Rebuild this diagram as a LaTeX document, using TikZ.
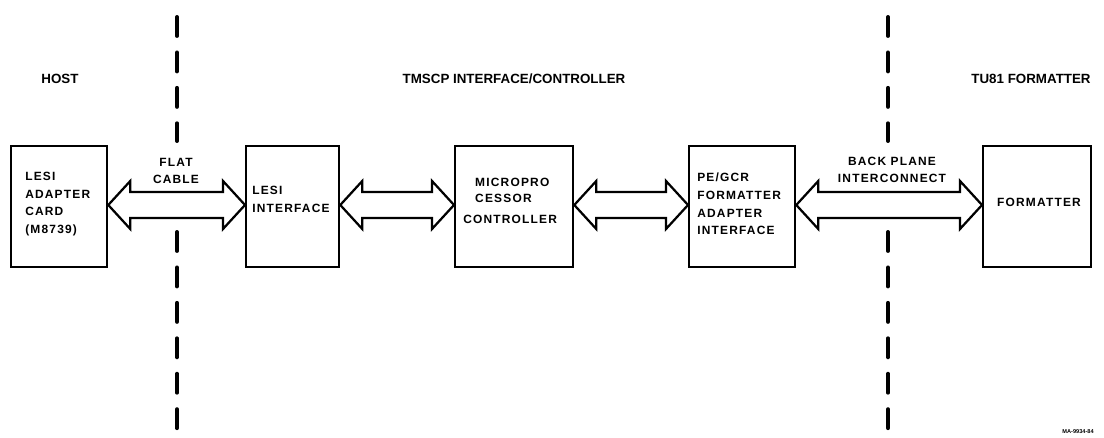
\documentclass[tikz,border=0pt]{standalone}
\usepackage{fontspec}
\setmainfont{Liberation Sans}
\newfontfamily\spacedfont{Liberation Sans}[LetterSpace=10]
\usetikzlibrary{calc}

\tikzset{
  unit/.style={draw, line width=1.6pt, minimum height=3.025cm, inner sep=0pt, anchor=north west},
  boxtext/.style={font=\spacedfont\bfseries\fontsize{8.5}{12.5}\selectfont, align=left, inner sep=0pt, anchor=north west},
  header/.style={font=\bfseries\fontsize{9.5}{11}\selectfont, inner sep=0pt},
  bus/.style={line width=1.6pt, line join=miter},
  divider/.style={line width=2.8pt, line cap=round, dash pattern=on 13.5pt off 11.7pt}
}

% double block arrow between two units
\newcommand{\busarrow}[2]{%
  \draw[bus] (#1.east |- rail) -- ++(22,-24) -- ++(0,11)
    -- ($(#2.west |- rail)+(-22,-13)$) -- ++(0,-11) -- (#2.west |- rail)
    -- ++(-22,24) -- ++(0,-11) -- ($(#1.east |- rail)+(22,13)$) -- ++(0,11) -- cycle;}

\begin{document}
\begin{tikzpicture}[x=0.025cm, y=-0.025cm]
    \useasboundingbox (0,0) rectangle (1104,438);
    \coordinate (rail) at (0,205);

    % Region dividers
    \draw[divider] (177,17) -- (177,141);
    \draw[divider] (177,232) -- (177,436);
    \draw[divider] (888,17) -- (888,141);
    \draw[divider] (888,232) -- (888,436);

    % Region titles
    \node[header] (host) at (60,79) {HOST};
    \node[header] (tmscp) at (514,79) {TMSCP INTERFACE/CONTROLLER};
    \node[header] (tu81) at (1031,79) {TU81 FORMATTER};

    % Units
    \node[unit, minimum width=2.4cm] (card) at (10,145) {};
    \node[unit, minimum width=2.325cm] (lesi) at (245,145) {};
    \node[unit, minimum width=2.95cm] (micro) at (454,145) {};
    \node[unit, minimum width=2.65cm] (pegcr) at (688,145) {};
    \node[unit, minimum width=2.7cm] (fmt) at (982,145) {};

    % Unit texts
    \node[boxtext] (cardtxt) at (25,172) {LESI\\ADAPTER\\CARD\\(M8739)};
    \node[boxtext] (lesitxt) at (252,186) {LESI\\INTERFACE};
    \node[boxtext] (microtxt) at (463,178) {\hspace*{8.5pt}MICROPRO\\[-1.2pt]\hspace*{8.5pt}CESSOR\\[2.4pt]CONTROLLER};
    \node[boxtext] (pegcrtxt) at (697,173) {PE/GCR\\FORMATTER\\ADAPTER\\INTERFACE};
    \node[boxtext, anchor=center] (fmttxt) at (1039,202) {FORMATTER};

    % Buses
    \busarrow{card}{lesi}
    \busarrow{lesi}{micro}
    \busarrow{micro}{pegcr}
    \busarrow{pegcr}{fmt}

    % Bus labels
    \node[boxtext, anchor=center, align=center] (flat) at (176,171) {FLAT\\CABLE};
    \node[boxtext, anchor=center, align=center] (back) at (892,170) {BACK PLANE\\INTERCONNECT};

    \node[font=\bfseries\fontsize{4}{5}\selectfont, inner sep=0pt] (code) at (1078,432) {MA-9934-84};
\end{tikzpicture}
\end{document}
